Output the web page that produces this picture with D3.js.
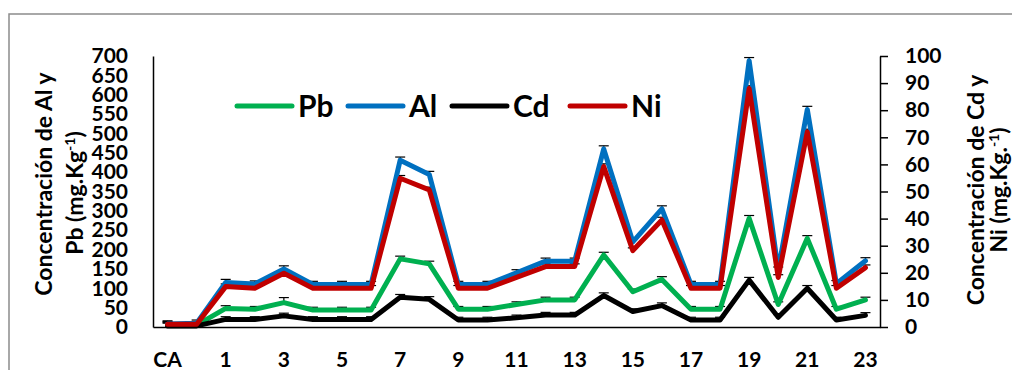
<!DOCTYPE html>
<html>
<head>
<meta charset="utf-8">
<script src="https://cdn.jsdelivr.net/npm/d3@7"></script>
<style>
  body { margin: 0; background: #fff; }
  svg { display: block; font-family: Lato, "Open Sans", sans-serif; font-weight: bold; }
</style>
</head>
<body>
<svg id="chart" width="1012" height="370"></svg>
<script>
// categories (only every other label is shown on the axis)
const categories = ["CA", "0", "1", "2", "3", "4", "5", "6", "7", "8", "9", "10", "11", "12",
    "13", "14", "15", "16", "17", "18", "19", "20", "21", "22", "23"];

// left axis (mg/kg)
const alValues = [8, 10, 115, 111, 150, 110, 110, 110, 431, 394, 110, 110, 140, 170, 170,
    460, 220, 305, 110, 110, 688, 147, 562, 112, 171];
const pbValues = [5, 5, 48, 46, 63, 44, 44, 44, 176, 163, 46, 46, 58, 70, 70,
    186, 91, 123, 46, 46, 281, 58, 229, 46, 70];

// right axis (mg/kg)
const cdValues = [0.4, 0.4, 2.8, 2.8, 4.1, 2.8, 2.8, 2.8, 11, 10.2, 2.6, 2.6, 3.4, 4.4, 4.4,
    11.6, 5.7, 7.9, 2.6, 2.6, 17.3, 3.6, 14.3, 2.6, 4.3];
const niValues = [1, 1, 14.9, 14.3, 19.8, 14.3, 14.3, 14.3, 54.9, 50.6, 14.3, 14.3, 18.3, 22.3, 22.3,
    59.2, 28.2, 39.5, 14.3, 14.3, 88, 18.3, 72, 14.3, 21.9];

// error bars (upper side)
const alErr = [8, 8, 8, 8, 8, 8, 8, 8, 8, 8, 8, 8, 8, 8, 8, 8, 8, 8, 8, 8, 8, 8, 8, 8, 8];
const pbErr = [7, 7, 7, 7, 13, 7, 7, 7, 7, 7, 7, 7, 7, 7, 7, 7, 7, 7, 7, 7, 7, 7, 7, 7, 7];
const cdErr = [1, 1, 1, 1, 1, 1, 1, 1, 1, 1, 1, 1, 1, 1, 1, 1, 1, 1, 1, 1, 1, 1, 1, 1, 1];
const niErr = [1, 1, 1, 1, 1, 1, 1, 1, 1, 1, 1, 1, 1, 1, 1, 1, 1, 1, 1, 1, 1, 1, 1, 1, 1];

const leftTicks = d3.range(0, 701, 50);
const rightTicks = d3.range(0, 101, 10);

const svg = d3.select("#chart");

// outer frame (clipped by the window on right/bottom)
svg.append("rect")
    .attr("x", 9).attr("y", 14)
    .attr("width", 1100).attr("height", 500)
    .attr("fill", "none")
    .attr("stroke", "#8c8c8c")
    .attr("stroke-width", 1.5);

const plot = { left: 153, right: 880, top: 56, bottom: 327 };

const x = d3.scaleBand().domain(categories).range([plot.left, plot.right]).padding(0);
const cx = d => x(d) + x.bandwidth() / 2;
const yLeft = d3.scaleLinear().domain([0, 700]).range([plot.bottom, plot.top]);
const yRight = d3.scaleLinear().domain([0, 100]).range([plot.bottom, plot.top]);

const series = [
    { name: "Pb", values: pbValues, err: pbErr, y: yLeft, color: "#00B050" },
    { name: "Al", values: alValues, err: alErr, y: yLeft, color: "#0070C0" },
    { name: "Cd", values: cdValues, err: cdErr, y: yRight, color: "#000000" },
    { name: "Ni", values: niValues, err: niErr, y: yRight, color: "#C00000" }
];

// axes
const axisFont = g => g.selectAll("text")
    .style("font-size", "21px")
    .style("font-weight", "bold")
    .style("font-family", "Lato, 'Open Sans', sans-serif")
    .attr("fill", "#000");

svg.append("g")
    .attr("transform", `translate(${plot.left},0)`)
    .call(d3.axisLeft(yLeft).tickValues(leftTicks).tickSize(0).tickPadding(25))
    .call(g => g.select(".domain").attr("stroke", "#000").attr("stroke-width", 1.5))
    .call(axisFont);

svg.append("g")
    .attr("transform", `translate(${plot.right},0)`)
    .call(d3.axisRight(yRight).tickValues(rightTicks).tickSizeInner(8).tickSizeOuter(0).tickPadding(17))
    .call(g => g.select(".domain").attr("stroke", "#000").attr("stroke-width", 1.5))
    .call(g => g.selectAll(".tick line").attr("stroke", "#000").attr("stroke-width", 1.5))
    .call(axisFont);

svg.append("g")
    .attr("transform", `translate(0,${plot.bottom})`)
    .call(d3.axisBottom(x)
        .tickSize(0)
        .tickPadding(25)
        .tickFormat((d, i) => i % 2 === 0 ? d : ""))
    .call(g => g.select(".domain").attr("stroke", "#000").attr("stroke-width", 1.5))
    .call(axisFont);

// error bars (behind lines)
const errG = svg.append("g").attr("stroke", "#000").attr("stroke-width", 1.2);
series.forEach(s => {
    categories.forEach((c, i) => {
        const px = cx(c);
        const y0 = s.y(s.values[i]);
        const y1 = s.y(s.values[i] + s.err[i]);
        errG.append("line").attr("x1", px).attr("x2", px).attr("y1", y0).attr("y2", y1);
        errG.append("line").attr("x1", px - 5).attr("x2", px + 5).attr("y1", y1).attr("y2", y1);
    });
});

// lines
series.forEach(s => {
    const line = d3.line()
        .x((d, i) => cx(categories[i]))
        .y(d => s.y(d));
    svg.append("path")
        .datum(s.values)
        .attr("d", line)
        .attr("fill", "none")
        .attr("stroke", s.color)
        .attr("stroke-width", 5)
        .attr("stroke-linejoin", "round")
        .attr("stroke-linecap", "round");
});

// legend
const legendX = [237, 348, 452, 570];
const legend = svg.append("g");
series.forEach((s, i) => {
    const g = legend.append("g").attr("transform", `translate(${legendX[i]},106)`);
    g.append("line")
        .attr("x1", 0).attr("x2", 55)
        .attr("stroke", s.color)
        .attr("stroke-width", 5)
        .attr("stroke-linecap", "round");
    g.append("text")
        .attr("x", 61).attr("y", 10.5)
        .style("font-size", "30px")
        .text(s.name);
});

// axis titles
function title(xPos, yPos, parts) {
    const t = svg.append("text")
        .attr("transform", `translate(${xPos},${yPos}) rotate(-90)`)
        .attr("text-anchor", "middle")
        .style("font-size", "23px");
    parts.forEach(p => {
        const ts = t.append("tspan").text(p.text);
        if (p.sup) ts.attr("baseline-shift", "super").style("font-size", "14px");
    });
}

title(52, 184, [{ text: "Concentración de Al y" }]);
title(83, 193, [{ text: "Pb (mg.Kg" }, { text: "-1", sup: true }, { text: ")" }]);
title(984, 190, [{ text: "Concentración de Cd y" }]);
title(1007, 190, [{ text: "Ni (mg.Kg." }, { text: "-1", sup: true }, { text: ")" }]);
</script>
</body>
</html>
